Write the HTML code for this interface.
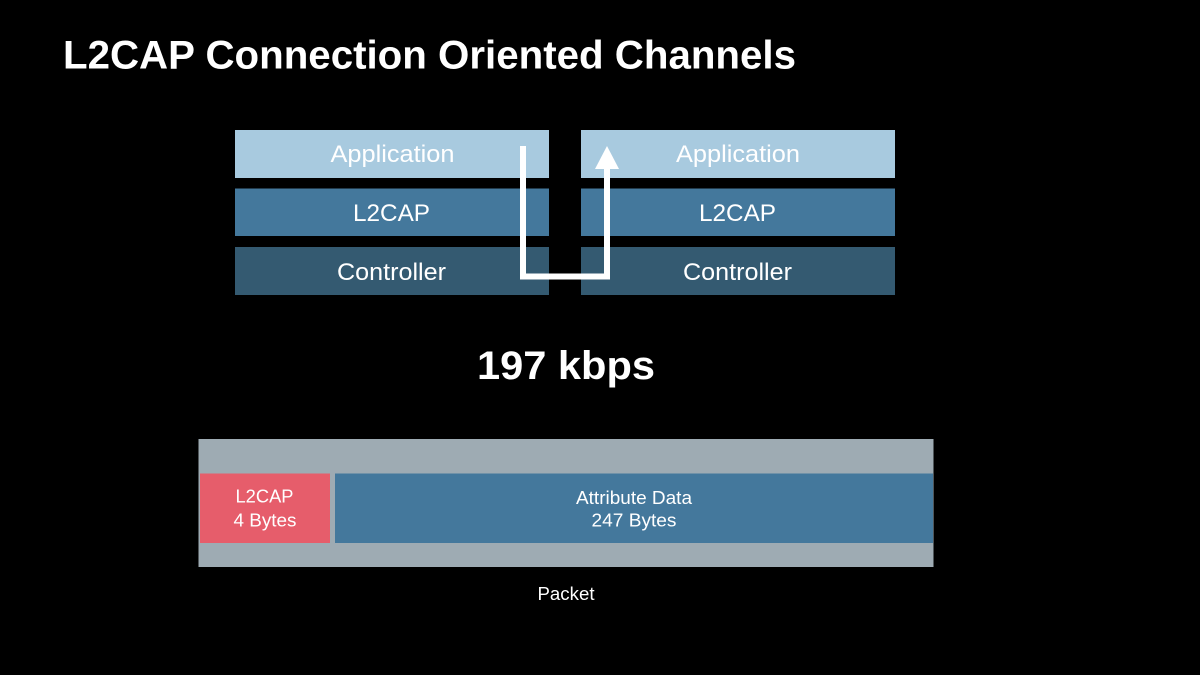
<!DOCTYPE html>
<html lang="en">
<head>
<meta charset="utf-8">
<title>L2CAP Connection Oriented Channels</title>
<style>
html,body{margin:0;padding:0;background:#000;width:1200px;height:675px;overflow:hidden}
svg{display:block}
text{font-family:"Liberation Sans",sans-serif;fill:#fff;text-anchor:middle}
</style>
</head>
<body>
<svg width="1200" height="675" viewBox="0 0 1200 675" xmlns="http://www.w3.org/2000/svg">
<rect width="1200" height="675" fill="#000"/>
<text x="429.5" y="68.5" font-size="40" font-weight="700" textLength="733" lengthAdjust="spacingAndGlyphs">L2CAP Connection Oriented Channels</text>

<rect x="235" y="130" width="314" height="48" fill="#a8cadf"/>
<rect x="235" y="188.5" width="314" height="47.5" fill="#44789c"/>
<rect x="235" y="247" width="314" height="48" fill="#345a71"/>
<rect x="581" y="130" width="314" height="48" fill="#a8cadf"/>
<rect x="581" y="188.5" width="314" height="47.5" fill="#44789c"/>
<rect x="581" y="247" width="314" height="48" fill="#345a71"/>

<text x="392.5" y="162" font-size="24.5" textLength="124" lengthAdjust="spacingAndGlyphs">Application</text>
<text x="391.5" y="221" font-size="24.5" textLength="77" lengthAdjust="spacingAndGlyphs">L2CAP</text>
<text x="391.5" y="280" font-size="24.5" textLength="109" lengthAdjust="spacingAndGlyphs">Controller</text>
<text x="738" y="162" font-size="24.5" textLength="124" lengthAdjust="spacingAndGlyphs">Application</text>
<text x="737.5" y="221" font-size="24.5" textLength="77" lengthAdjust="spacingAndGlyphs">L2CAP</text>
<text x="737.5" y="280" font-size="24.5" textLength="109" lengthAdjust="spacingAndGlyphs">Controller</text>

<path d="M523 146V276.5H607V165" fill="none" stroke="#fff" stroke-width="6"/>
<polygon points="607,146 619,169 595,169" fill="#fff"/>

<text x="566" y="379" font-size="40" font-weight="700" textLength="178" lengthAdjust="spacingAndGlyphs">197 kbps</text>

<rect x="198.5" y="439" width="735" height="128" fill="#9eabb3"/>
<rect x="200" y="473.5" width="130" height="69.5" fill="#e65d6b"/>
<rect x="335" y="473.5" width="598" height="69.5" fill="#44789c"/>

<text x="264.5" y="502.5" font-size="18.5" textLength="58" lengthAdjust="spacingAndGlyphs">L2CAP</text>
<text x="265" y="526.5" font-size="18.5" textLength="63" lengthAdjust="spacingAndGlyphs">4 Bytes</text>
<text x="634" y="504" font-size="18.5" textLength="116" lengthAdjust="spacingAndGlyphs">Attribute Data</text>
<text x="634" y="526.5" font-size="18.5" textLength="85" lengthAdjust="spacingAndGlyphs">247 Bytes</text>
<text x="566" y="600" font-size="18.5" textLength="57" lengthAdjust="spacingAndGlyphs">Packet</text>
</svg>
</body>
</html>
